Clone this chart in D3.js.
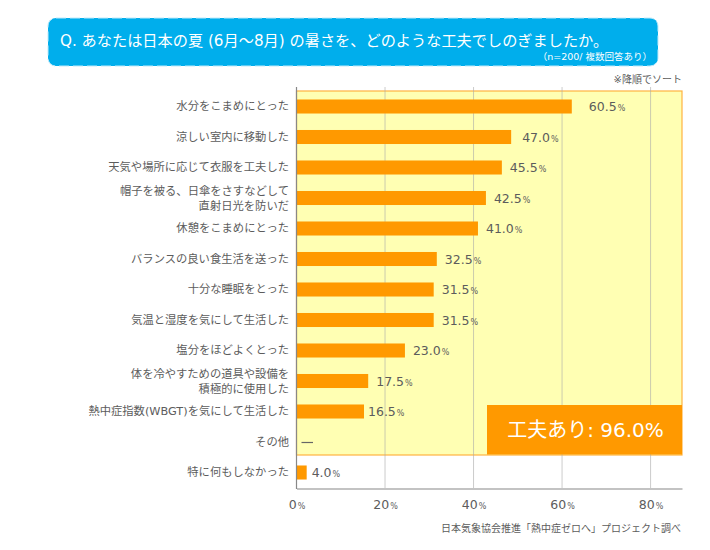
<!DOCTYPE html>
<html>
<head>
<meta charset="utf-8">
<script src="https://cdnjs.cloudflare.com/ajax/libs/d3/7.8.5/d3.min.js"></script>
<style>
html, body { margin: 0; padding: 0; background: #fff; }
svg { display: block; }
text { font-family: "DejaVu Sans", "Noto Sans CJK JP", sans-serif; fill: #5c5c5c; }
</style>
</head>
<body>
<div id="chart"></div>
<script>
var categories = [
    "水分をこまめにとった",
    "涼しい室内に移動した",
    "天気や場所に応じて衣服を工夫した",
    "帽子を被る、日傘をさすなどして|直射日光を防いだ",
    "休憩をこまめにとった",
    "バランスの良い食生活を送った",
    "十分な睡眠をとった",
    "気温と湿度を気にして生活した",
    "塩分をほどよくとった",
    "体を冷やすための道具や設備を|積極的に使用した",
    "熱中症指数(WBGT)を気にして生活した",
    "その他",
    "特に何もしなかった"
];
// printed on the chart
var valueLabels = ["60.5", "47.0", "45.5", "42.5", "41.0", "32.5", "31.5", "31.5", "23.0", "17.5", "16.5", null, "4.0"];
var barValues = [62.2, 48.5, 46.4, 42.8, 41, 31.7, 31, 31, 24.5, 16.2, 15.25, 0, 2.3];
var xTicks = [0, 20, 40, 60, 80];
var xMax = 87.1;
var summaryLabel = "工夫あり: 96.0%";

var svg = d3.select('#chart').append('svg')
    .attr('width', 710)
    .attr('height', 550)

var x = d3.scaleLinear().domain([0, xMax]).range([296.5, 682])
var y = d3.scaleBand().domain(categories).range([91.25, 487.75]).paddingInner(0.54).paddingOuter(0.27)

// title banner
svg.append('rect')
    .attr('x', 48).attr('y', 18)
    .attr('width', 610).attr('height', 48)
    .attr('rx', 8)
    .attr('fill', '#00aeec')
svg.append('rect')
    .attr('x', 48).attr('y', 18)
    .attr('width', 610).attr('height', 48)
    .attr('rx', 8)
    .attr('fill', 'none')
    .attr('stroke', '#bfeafa')
    .attr('stroke-width', 1)
    .attr('stroke-dasharray', '10 4')
svg.append('text')
    .attr('x', 60).attr('y', 46)
    .attr('font-size', 15.2)
    .style('fill', '#fff')
    .text('Q. あなたは日本の夏 (6月～8月) の暑さを、どのような工夫でしのぎましたか。')
svg.append('text')
    .attr('x', 652).attr('y', 60)
    .attr('text-anchor', 'end')
    .attr('font-size', 9.5)
    .style('fill', '#fff')
    .text('（n=200/ 複数回答あり）')

svg.append('text')
    .attr('x', 682).attr('y', 83)
    .attr('text-anchor', 'end')
    .attr('font-size', 10)
    .text('※降順でソート')

// yellow box around everyone who did something
svg.append('rect')
    .attr('x', x(0)).attr('y', 91)
    .attr('width', x(xMax) - x(0)).attr('height', 364)
    .attr('fill', '#ffffb3')
    .attr('stroke', '#ffb340')
    .attr('stroke-width', 1.2)

// grid
svg.append('g').selectAll('line')
    .data(xTicks.slice(1))
    .enter().append('line')
    .attr('x1', d => x(d)).attr('x2', d => x(d))
    .attr('y1', 87).attr('y2', 488)
    .attr('stroke', '#aaa')
    .attr('stroke-opacity', 0.6)

// bars
svg.append('g').selectAll('rect')
    .data(categories)
    .enter().append('rect')
    .attr('x', x(0))
    .attr('y', d => y(d))
    .attr('width', (d, i) => x(barValues[i]) - x(0))
    .attr('height', y.bandwidth())
    .attr('fill', '#ff9900')

// value labels, gap to the bar is uneven in the original
function labelGap(i) {
    if (i == 0) return 17
    if (i == 1) return 11
    if (i == 10) return 4
    if (i == 12) return 5
    return 8
}
svg.append('g').selectAll('text')
    .data(categories)
    .enter().append('text')
    .attr('x', (d, i) => x(barValues[i]) + labelGap(i))
    .attr('y', d => y(d) + y.bandwidth() / 2 + 4.5)
    .attr('font-size', 12.5)
    .each(function(d, i) {
        if (valueLabels[i] == null) return
        d3.select(this).append('tspan').text(valueLabels[i])
        d3.select(this).append('tspan').attr('font-size', 8).attr('dx', 1).text('%')
    })

// dash for "other"
svg.append('line')
    .attr('x1', x(0) + 5).attr('x2', x(0) + 16.5)
    .attr('y1', y('その他') + y.bandwidth() / 2 + 0.5)
    .attr('y2', y('その他') + y.bandwidth() / 2 + 0.5)
    .attr('stroke', '#666')
    .attr('stroke-width', 1.2)

// summary box
svg.append('rect')
    .attr('x', 487).attr('y', 405)
    .attr('width', x(xMax) - 487).attr('height', 49.5)
    .attr('fill', '#ff9900')
svg.append('text')
    .attr('x', 585.5).attr('y', 437)
    .attr('text-anchor', 'middle')
    .attr('font-size', 20)
    .style('fill', '#fff')
    .text(summaryLabel)

// y axis, long labels broken on |
var yAxis = svg.append('g')
    .attr('transform', 'translate(' + x(0) + ',0)')
    .call(d3.axisLeft(y).tickSize(0).tickPadding(7))
yAxis.select('.domain').remove()
yAxis.selectAll('text')
    .attr('font-size', 11.3)
    .style('font-family', null)
    .each(function(d) {
        var lines = d.split('|')
        var el = d3.select(this).text(null).attr('dy', null)
        lines.forEach(function(line, i) {
            el.append('tspan')
                .attr('x', -7.5)
                .attr('y', lines.length > 1 ? (i == 0 ? -3 : 12) : 3.8)
                .text(line)
        })
    })

// x axis
var xAxis = svg.append('g')
    .attr('transform', 'translate(0,488.5)')
    .call(d3.axisBottom(x).tickValues(xTicks).tickSize(0).tickPadding(12).tickFormat(d => d))
xAxis.select('.domain').attr('stroke', '#888').attr('stroke-width', 1.2)
xAxis.selectAll('text')
    .attr('font-size', 12.5)
    .attr('dx', 0)
    .each(function(d) {
        d3.select(this).append('tspan').attr('font-size', 8).attr('dx', 1).text('%')
    })

// left axis line
svg.append('line')
    .attr('x1', x(0)).attr('x2', x(0))
    .attr('y1', 87).attr('y2', 489)
    .attr('stroke', '#888')
    .attr('stroke-width', 1.2)

svg.append('text')
    .attr('x', 681).attr('y', 532)
    .attr('text-anchor', 'end')
    .attr('font-size', 10)
    .text('日本気象協会推進「熱中症ゼロへ」プロジェクト調べ')
</script>
</body>
</html>
